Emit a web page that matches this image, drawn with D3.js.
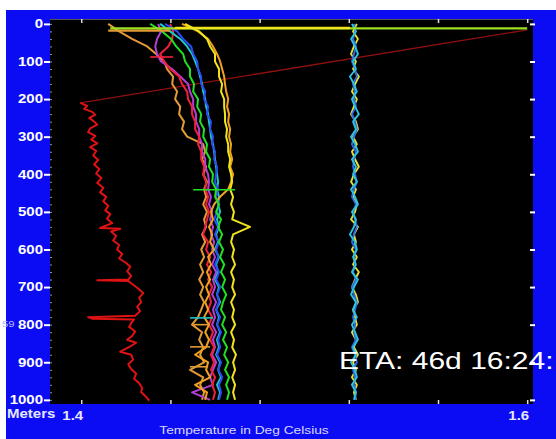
<!DOCTYPE html>
<html><head><meta charset="utf-8">
<script src="https://cdn.jsdelivr.net/npm/d3@7"></script>
<style>body{margin:0;background:#fff;overflow:hidden}svg{display:block}</style>
</head><body>
<svg id="c" width="556" height="439"></svg>
<script>
// ---------------- DATA ----------------
const depthGrid = [0,20,40,60,80,100,120,140,160,180,200,220,240,260,280,300,320,340,360,380,400,420,440,460,480,500,520,540,560,580,600,620,640,660,680,700,720,740,760,780,800,820,840,860,880,900,920,940,960,980,1000];
const yTickValues = [0,100,200,300,400,500,600,700,800,900,1000];
const xTickValues = [1.40,1.44,1.48,1.52,1.56,1.60];
const xTickLabels = ["1.4","","","","","1.6"];

const orangeATemps = [1.4121,1.4170,1.4228,1.4296,1.4336,1.4372,1.4385,1.4412,1.4408,1.4430,1.4421,1.4444,1.4439,1.4461,1.4452,1.4475,1.4547,1.4556,1.4542,1.4560,1.4547,1.4564,1.4551,1.4560,1.4547,1.4564,1.4551,1.4560,1.4542,1.4556,1.4538,1.4551,1.4533,1.4547,1.4529,1.4547,1.4533,1.4551,1.4538,1.4524,1.4497,1.4542,1.4529,1.4547,1.4533,1.4551,1.4488,1.4547,1.4533,1.4551,1.4542];
const purpleTemps = [1.4345,1.4358,1.4340,1.4332,1.4340,1.4358,1.4408,1.4444,1.4479,1.4488,1.4502,1.4502,1.4515,1.4515,1.4529,1.4529,1.4542,1.4542,1.4556,1.4556,1.4569,1.4573,1.4569,1.4582,1.4573,1.4587,1.4578,1.4591,1.4582,1.4596,1.4587,1.4600,1.4587,1.4605,1.4591,1.4600,1.4587,1.4605,1.4591,1.4600,1.4587,1.4605,1.4591,1.4600,1.4587,1.4605,1.4591,1.4578,1.4591,1.4497,1.4578];
const redTemps = [1.4399,1.4412,1.4408,1.4390,1.4354,1.4372,1.4399,1.4439,1.4452,1.4475,1.4479,1.4497,1.4497,1.4511,1.4511,1.4529,1.4524,1.4538,1.4538,1.4551,1.4547,1.4560,1.4556,1.4569,1.4560,1.4573,1.4564,1.4556,1.4547,1.4569,1.4560,1.4578,1.4564,1.4582,1.4569,1.4587,1.4573,1.4582,1.4569,1.4587,1.4573,1.4591,1.4578,1.4596,1.4582,1.4596,1.4582,1.4600,1.4587,1.4600,1.4591];
const cyanTemps = [1.4354,1.4399,1.4444,1.4475,1.4497,1.4511,1.4524,1.4533,1.4542,1.4547,1.4556,1.4560,1.4569,1.4573,1.4578,1.4582,1.4591,1.4596,1.4600,1.4605,1.4609,1.4614,1.4609,1.4618,1.4614,1.4623,1.4609,1.4618,1.4605,1.4614,1.4600,1.4618,1.4605,1.4614,1.4600,1.4618,1.4609,1.4623,1.4605,1.4618,1.4609,1.4623,1.4609,1.4618,1.4605,1.4623,1.4614,1.4627,1.4609,1.4623,1.4614];
const blueTemps = [1.4376,1.4430,1.4457,1.4493,1.4502,1.4520,1.4524,1.4538,1.4538,1.4556,1.4551,1.4569,1.4564,1.4582,1.4578,1.4591,1.4587,1.4600,1.4596,1.4609,1.4605,1.4600,1.4614,1.4605,1.4618,1.4609,1.4596,1.4614,1.4600,1.4618,1.4605,1.4614,1.4600,1.4618,1.4605,1.4623,1.4609,1.4618,1.4605,1.4623,1.4609,1.4627,1.4614,1.4623,1.4609,1.4627,1.4614,1.4632,1.4618,1.4627,1.4618];
const orangeBTemps = [1.4452,1.4524,1.4569,1.4591,1.4609,1.4623,1.4632,1.4641,1.4645,1.4650,1.4659,1.4654,1.4663,1.4659,1.4668,1.4663,1.4672,1.4668,1.4677,1.4668,1.4681,1.4672,1.4659,1.4623,1.4596,1.4582,1.4591,1.4573,1.4587,1.4578,1.4596,1.4569,1.4582,1.4564,1.4578,1.4560,1.4573,1.4556,1.4569,1.4551,1.4573,1.4556,1.4573,1.4560,1.4511,1.4569,1.4560,1.4578,1.4511,1.4564,1.4556];
const greenTemps = [1.4309,1.4363,1.4403,1.4426,1.4457,1.4466,1.4488,1.4488,1.4506,1.4502,1.4524,1.4520,1.4538,1.4533,1.4551,1.4547,1.4564,1.4560,1.4578,1.4573,1.4591,1.4587,1.4605,1.4600,1.4618,1.4605,1.4627,1.4614,1.4632,1.4618,1.4636,1.4623,1.4641,1.4627,1.4645,1.4632,1.4650,1.4636,1.4627,1.4645,1.4632,1.4650,1.4636,1.4654,1.4641,1.4659,1.4645,1.4663,1.4650,1.4663,1.4654];
const yellowTemps = [1.4466,1.4529,1.4564,1.4578,1.4600,1.4600,1.4618,1.4618,1.4632,1.4627,1.4641,1.4641,1.4645,1.4645,1.4654,1.4650,1.4659,1.4659,1.4668,1.4663,1.4672,1.4677,1.4668,1.4681,1.4672,1.4685,1.4677,1.4757,1.4681,1.4672,1.4685,1.4677,1.4690,1.4672,1.4685,1.4677,1.4690,1.4672,1.4685,1.4677,1.4690,1.4672,1.4685,1.4677,1.4694,1.4681,1.4690,1.4677,1.4690,1.4681,1.4690];

const bandCyanTemps = [1.5214,1.5232,1.5210,1.5228,1.5241,1.5219,1.5232,1.5205,1.5223,1.5236,1.5214,1.5228,1.5245,1.5219,1.5232,1.5210,1.5228,1.5241,1.5214,1.5232,1.5219,1.5236,1.5210,1.5228,1.5241,1.5214,1.5232,1.5223,1.5205,1.5228,1.5236,1.5219,1.5232,1.5214,1.5241,1.5223,1.5210,1.5232,1.5219,1.5236,1.5214,1.5228,1.5241,1.5219,1.5232,1.5210,1.5228,1.5236,1.5214,1.5232,1.5223];
const bandYellowTemps = [1.5236,1.5219,1.5241,1.5223,1.5210,1.5232,1.5219,1.5245,1.5228,1.5214,1.5236,1.5223,1.5210,1.5232,1.5241,1.5219,1.5236,1.5214,1.5228,1.5245,1.5223,1.5210,1.5232,1.5219,1.5236,1.5228,1.5210,1.5241,1.5223,1.5232,1.5214,1.5236,1.5219,1.5245,1.5228,1.5214,1.5232,1.5241,1.5219,1.5228,1.5236,1.5214,1.5232,1.5223,1.5241,1.5219,1.5232,1.5214,1.5236,1.5223,1.5232];
const bandBlueTemps = [1.5223,1.5228,1.5219,1.5232,1.5223,1.5214,1.5228,1.5236,1.5219,1.5228,1.5223,1.5232,1.5214,1.5228,1.5236,1.5223,1.5214,1.5232,1.5223,1.5219,1.5228,1.5236,1.5223,1.5214,1.5232,1.5219,1.5228,1.5236,1.5223,1.5214,1.5232,1.5223,1.5228,1.5219,1.5232,1.5214,1.5223,1.5236,1.5228,1.5219,1.5228,1.5223,1.5232,1.5214,1.5228,1.5236,1.5219,1.5228,1.5223,1.5232,1.5228];

// deep red profile: [temperature, depth]
const redProfile = [[1.3996,210],[1.4027,218],[1.4013,226],[1.4049,234],[1.4063,242],[1.4036,250],[1.4054,258],[1.4072,268],[1.4040,278],[1.4031,288],[1.4063,298],[1.4045,308],[1.4072,318],[1.4040,328],[1.4067,338],[1.4054,350],[1.4076,362],[1.4058,374],[1.4081,386],[1.4067,398],[1.4090,410],[1.4072,423],[1.4099,436],[1.4085,448],[1.4112,460],[1.4099,472],[1.4121,484],[1.4108,496],[1.4130,506],[1.4116,518],[1.4139,530],[1.4085,543],[1.4175,545],[1.4134,552],[1.4157,564],[1.4143,576],[1.4170,588],[1.4161,600],[1.4184,612],[1.4170,624],[1.4202,636],[1.4220,646],[1.4206,658],[1.4224,670],[1.4211,680],[1.4072,682],[1.4211,684],[1.4233,694],[1.4255,704],[1.4278,716],[1.4260,728],[1.4269,740],[1.4251,752],[1.4264,764],[1.4242,776],[1.4031,780],[1.4049,784],[1.4237,786],[1.4224,796],[1.4215,806],[1.4242,818],[1.4228,830],[1.4206,840],[1.4246,848],[1.4220,858],[1.4175,872],[1.4224,880],[1.4233,893],[1.4211,905],[1.4224,918],[1.4246,930],[1.4237,944],[1.4260,956],[1.4273,968],[1.4269,980],[1.4291,992],[1.4305,1002]];
const redLead = [[1.6000,16],[1.3996,210]];

// horizontal lines near the surface: [name, depth, fromTemp, toTemp]
const surfaceLines = [["orangeA",18,1.4121,1.4399],["lime",12,1.4130,1.6000],["yellow",11,1.4421,1.5205]];
// single-sample horizontal excursions: [name, depth, fromTemp, toTemp]
const spikes = [["red",88,1.4309,1.4412],["green",441,1.4502,1.4690],["cyan",782,1.4488,1.4591],["orangeA",800,1.4502,1.4569],["orangeA",859,1.4488,1.4578],["orangeA",912,1.4488,1.4569]];

const clusterSeries = [
  ["orangeA", orangeATemps], ["purple", purpleTemps], ["red", redTemps], ["cyan", cyanTemps],
  ["blue", blueTemps], ["orangeB", orangeBTemps], ["green", greenTemps], ["yellow", yellowTemps]
];
const bandSeries = [["bandYellow", bandYellowTemps], ["bandBlue", bandBlueTemps], ["bandCyan", bandCyanTemps]];

// ---------------- STYLE ----------------
const colors = {
  orangeA:"#e39a35", orangeB:"#f2a21e", purple:"#b23fd6", red:"#f0203c", cyan:"#1ec8c8",
  blue:"#2a4cf5", green:"#22e022", yellow:"#f0e41c", lime:"#9ee020",
  bandYellow:"#e8e030", bandBlue:"#2a6ae8", bandCyan:"#2cc4e0",
  redProfile:"#e01212", redLead:"#8e1010"
};
const SX = 1.25; // horizontal stretch of the lettering

// ---------------- DRAW ----------------
const svg = d3.select("#c");
svg.append("rect").attr("x",6).attr("y",10).attr("width",550).attr("height",429).attr("fill","#0c0cf4");

const x = d3.scaleLinear().domain([1.386, 1.6026]).range([50, 533]);
const y = d3.scaleLinear().domain([-13, 1011]).range([19, 404]);

svg.append("rect").attr("x",50).attr("y",19).attr("width",483).attr("height",385).attr("fill","#000");
svg.append("line").attr("x1",50).attr("x2",533).attr("y1",19.5).attr("y2",19.5).attr("stroke","#555").attr("stroke-width",1);

svg.append("clipPath").attr("id","clip").append("rect").attr("x",50).attr("y",19).attr("width",483).attr("height",385);
const g = svg.append("g").attr("clip-path","url(#clip)");

const line = d3.line().x(d => x(d[0])).y(d => y(d[1]));

g.append("path").datum(redLead).attr("d",line).attr("fill","none").attr("stroke",colors.redLead).attr("stroke-width",1.3);
g.append("path").datum(redProfile).attr("d",line).attr("fill","none").attr("stroke",colors.redProfile).attr("stroke-width",2).attr("stroke-linejoin","round");

bandSeries.forEach(([name, temps]) => {
  g.append("path").datum(d3.zip(temps, depthGrid)).attr("d",line)
    .attr("fill","none").attr("stroke",colors[name]).attr("stroke-width",1.9).attr("stroke-linejoin","round");
});

clusterSeries.forEach(([name, temps]) => {
  g.append("path").datum(d3.zip(temps, depthGrid)).attr("d",line)
    .attr("fill","none").attr("stroke",colors[name]).attr("stroke-width",2).attr("stroke-linejoin","round");
});

g.selectAll("line.spike").data(spikes).join("line").attr("class","spike")
  .attr("x1",d=>x(d[2])).attr("x2",d=>x(d[3])).attr("y1",d=>y(d[1])).attr("y2",d=>y(d[1]))
  .attr("stroke",d=>colors[d[0]]).attr("stroke-width",1.6);

g.selectAll("line.surf").data(surfaceLines).join("line").attr("class","surf")
  .attr("x1",d=>x(d[2])).attr("x2",d=>x(d[3])).attr("y1",d=>y(d[1])).attr("y2",d=>y(d[1]))
  .attr("stroke",d=>colors[d[0]]).attr("stroke-width",2.4);

// ---------------- AXES ----------------
const font = "'Liberation Sans', Arial, sans-serif";

const minor = svg.append("g").attr("transform","translate(50,0)")
  .call(d3.axisRight(y).ticks(50).tickSize(2).tickFormat(""));
minor.select(".domain").remove();
minor.selectAll("line").attr("stroke","#8a8ac8");

const yAxis = svg.append("g").attr("transform","translate(50,0)")
  .call(d3.axisLeft(y).tickValues(yTickValues).tickSize(6).tickPadding(1).tickFormat(d3.format("d")));
yAxis.select(".domain").remove();
yAxis.selectAll("line").attr("stroke","#fff").attr("stroke-width",2);
yAxis.selectAll("text").attr("fill","#fff").attr("x", -7 / SX).attr("transform", `scale(${SX},1)`)
  .style("font-family",font).style("font-size","12px").style("font-weight","bold");

const yAxisR = svg.append("g").attr("transform","translate(530,0)")
  .call(d3.axisRight(y).tickValues(yTickValues).tickSize(5).tickFormat(""));
yAxisR.select(".domain").remove();
yAxisR.selectAll("line").attr("stroke","#fff").attr("stroke-width",2);

const xTop = svg.append("g").attr("transform","translate(0,19)")
  .call(d3.axisBottom(x).tickValues(xTickValues).tickSize(4).tickFormat(""));
xTop.select(".domain").remove();
xTop.selectAll("line").attr("stroke","#ddd").attr("stroke-width",1.5);

const xBot = svg.append("g").attr("transform","translate(0,404)")
  .call(d3.axisTop(x).tickValues(xTickValues).tickSize(4).tickFormat(""));
xBot.select(".domain").remove();
xBot.selectAll("line").attr("stroke","#ddd").attr("stroke-width",1.5);

function stretchedText(px, py, anchor, txt) {
  return svg.append("text").attr("transform",`translate(${px},${py}) scale(${SX},1)`)
    .attr("text-anchor",anchor).style("font-family",font).text(txt);
}

xTickValues.forEach((v,i) => {
  if (xTickLabels[i] === "") return;
  stretchedText(x(v)+2, 420, "end", xTickLabels[i]).attr("fill","#e6e6ff").style("font-size","12px").style("font-weight","bold");
});

stretchedText(7, 418, "start", "Meters").attr("fill","#e6e6ff").style("font-size","12px").style("font-weight","bold");
stretchedText(244, 434, "middle", "Temperature in Deg Celsius").attr("fill","#d8d8ff").style("font-size","11px");
stretchedText(2, 327, "start", "59").attr("fill","#b8b8ff").style("font-size","9px");
stretchedText(339, 369, "start", "ETA: 46d 16:24:").attr("fill","#fff").style("font-size","24px");
</script>
</body></html>
